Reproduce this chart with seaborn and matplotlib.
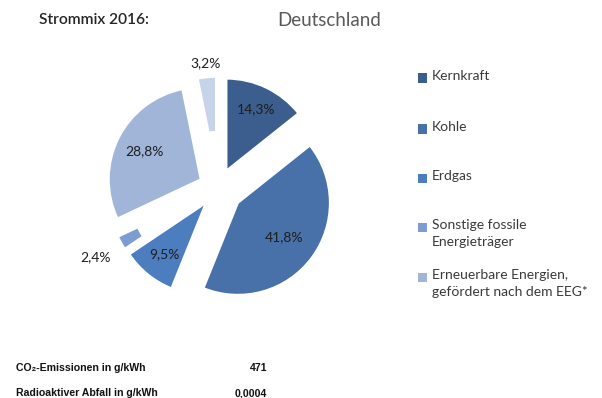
import numpy as np
import matplotlib
matplotlib.use("Agg")
import matplotlib.pyplot as plt
import seaborn as sns

# Strommix 2016, Deutschland (Anteile in %)
sources = ["Kernkraft", "Kohle", "Erdgas", "Sonstige fossile\nEnergieträger",
           "Erneuerbare Energien,\ngefördert nach dem EEG*", "Sonstige"]
shares = [14.3, 41.8, 9.5, 2.4, 28.8, 3.2]
legend_count = 5

footer_labels = ["CO\u2082-Emissionen in g/kWh", "Radioaktiver Abfall in g/kWh"]
footer_values = ["471", "0,0004"]

sns.set_theme(style="white")
plt.rcParams["font.family"] = ["Lato", "DejaVu Sans"]

palette = sns.color_palette(["#3b5e8e", "#4771a8", "#4b7dbf", "#7d9dd2",
                             "#a1b5d9", "#c7d3e8"])

W, H = 602, 398
fig = plt.figure(figsize=(W / 100, H / 100), dpi=100)
fig.patch.set_facecolor("white")

# pie axes: unit radius maps to R pixels, centre at (cx, cy) in pixel coords
R = 92.0
cx, cy = 218.0, 188.0
ax = fig.add_axes([0, 0, 1, 1])

explode = [0.21, 0.27, 0.21, 0.21, 0.21, 0.21]
wedges, _ = ax.pie(shares, explode=explode, colors=palette, startangle=90,
                   counterclock=False, radius=1.0, center=(0, 0),
                   wedgeprops=dict(edgecolor="white", linewidth=1.5))
# the narrow slivers only show their outer part
wedges[3].set_width(0.24)
wedges[5].set_width(0.6)
ax.set_xlim(-cx / R, (W - cx) / R)
ax.set_ylim(-(H - cy) / R, cy / R)
ax.set_aspect("equal")
ax.axis("off")

# percentage labels along each wedge's bisector
label_dist = [0.74, 0.62, 0.72, 1.32, 0.69, 1.15]
for w, v, d in zip(wedges, shares, label_dist):
    ang = np.deg2rad((w.theta1 + w.theta2) / 2)
    x = w.center[0] + d * w.r * np.cos(ang)
    y = w.center[1] + d * w.r * np.sin(ang)
    ax.text(x, y, f"{v:.1f}%".replace(".", ","), ha="center", va="center",
            fontsize=10, color="#1e1e1e")


def fx(px):
    return px / W


def fy(py):
    return 1 - py / H


fig.text(fx(39), fy(20), "Strommix 2016:", fontsize=11.2, fontweight="semibold",
         color="#262626", va="center", ha="left")
fig.text(fx(277), fy(20), "Deutschland", fontsize=13.5, color="#595959",
         va="center", ha="left")

# legend: square swatch beside the first line of each entry
legend_y = [78, 129, 178, 227, 277]
for name, col, ly in zip(sources[:legend_count], palette[:legend_count], legend_y):
    fig.patches.append(plt.Rectangle((fx(418), fy(ly + 4.5)), 9 / W, 9 / H,
                                     transform=fig.transFigure,
                                     facecolor=col, edgecolor="none"))
    fig.text(fx(432), fy(ly - 8), name, fontsize=10, color="#3a3a3a",
             va="top", ha="left", linespacing=1.45)

footer_y = [368, 393]
for lab, val, ly in zip(footer_labels, footer_values, footer_y):
    fig.text(fx(16), fy(ly), lab, fontsize=7.6, fontweight="bold", color="#111111",
             va="center", ha="left", family=["Liberation Sans", "DejaVu Sans"])
    fig.text(fx(267), fy(ly), val, fontsize=7.6, fontweight="bold", color="#111111",
             va="center", ha="right", family=["Liberation Sans", "DejaVu Sans"])

fig.savefig("out.png", dpi=100, facecolor="white")
